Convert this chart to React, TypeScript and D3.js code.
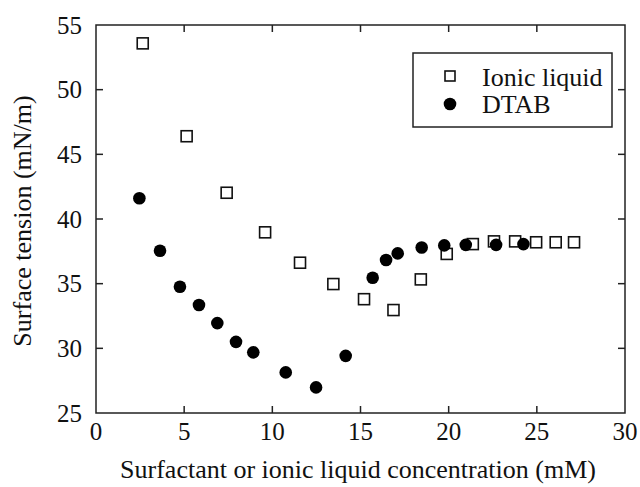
import * as d3 from "d3";
import { useEffect, useRef } from "react";

const ionicX = [2.65, 5.14, 7.41, 9.59, 11.57, 13.46, 15.2, 16.87, 18.42, 19.89, 21.37, 22.57, 23.77, 24.96, 26.07, 27.11];
const ionicY = [53.58, 46.4, 42.03, 38.97, 36.62, 34.97, 33.8, 32.96, 35.33, 37.3, 38.06, 38.27, 38.27, 38.2, 38.2, 38.2];

const dtabX = [2.46, 3.63, 4.76, 5.84, 6.88, 7.94, 8.92, 10.76, 12.48, 14.16, 15.69, 16.45, 17.11, 18.47, 19.75, 20.97, 22.69, 24.24];
const dtabY = [41.6, 37.55, 34.76, 33.35, 31.95, 30.5, 29.69, 28.14, 26.98, 29.42, 35.46, 36.83, 37.34, 37.8, 37.96, 38.0, 38.0, 38.06];

const xTicks = [0, 5, 10, 15, 20, 25, 30];
const yTicks = [25, 30, 35, 40, 45, 50, 55];

const seriesNames = ["Ionic liquid", "DTAB"];

export default function App() {
  const ref = useRef<SVGSVGElement>(null);

  const width = 640;
  const height = 487;
  const left = 96, right = 625, top = 25, bottom = 413;

  useEffect(() => {
    const svg = d3.select(ref.current);
    svg.selectAll("*").remove();

    const x = d3.scaleLinear().domain([0, 30]).range([left, right]);
    const y = d3.scaleLinear().domain([25, 55]).range([bottom, top]);

    const font = "'Liberation Serif', 'Times New Roman', serif";
    const tickLen = 7;

    // frame
    svg.append("rect")
      .attr("x", left).attr("y", top)
      .attr("width", right - left).attr("height", bottom - top)
      .attr("fill", "none").attr("stroke", "#222").attr("stroke-width", 1.5);

    const ticks = svg.append("g").attr("stroke", "#222").attr("stroke-width", 1.5);
    xTicks.slice(1, -1).forEach(t => {
      ticks.append("line").attr("x1", x(t)).attr("x2", x(t)).attr("y1", bottom).attr("y2", bottom - tickLen);
      ticks.append("line").attr("x1", x(t)).attr("x2", x(t)).attr("y1", top).attr("y2", top + tickLen);
    });
    yTicks.slice(1, -1).forEach(t => {
      ticks.append("line").attr("y1", y(t)).attr("y2", y(t)).attr("x1", left).attr("x2", left + tickLen);
      ticks.append("line").attr("y1", y(t)).attr("y2", y(t)).attr("x1", right).attr("x2", right - tickLen);
    });

    svg.append("g")
      .attr("font-family", font).attr("font-size", 25).attr("fill", "#111")
      .selectAll("text").data(xTicks).join("text")
      .attr("x", d => x(d)).attr("y", 440)
      .attr("text-anchor", "middle")
      .text(d => d);

    svg.append("g")
      .attr("font-family", font).attr("font-size", 25).attr("fill", "#111")
      .selectAll("text").data(yTicks).join("text")
      .attr("x", 82).attr("y", d => y(d) + 8.5)
      .attr("text-anchor", "end")
      .text(d => d);

    svg.append("text")
      .attr("font-family", font).attr("font-size", 26).attr("fill", "#111")
      .attr("x", 358).attr("y", 478)
      .attr("text-anchor", "middle")
      .text("Surfactant or ionic liquid concentration (mM)");

    svg.append("text")
      .attr("font-family", font).attr("font-size", 26).attr("fill", "#111")
      .attr("transform", `translate(31, ${(top + bottom) / 2 + 2}) rotate(-90)`)
      .attr("text-anchor", "middle")
      .text("Surface tension (mN/m)");

    // ionic liquid squares
    const sq = 11;
    svg.append("g")
      .selectAll("rect").data(d3.zip(ionicX, ionicY)).join("rect")
      .attr("x", d => x(d[0]) - sq / 2).attr("y", d => y(d[1]) - sq / 2)
      .attr("width", sq).attr("height", sq)
      .attr("fill", "white").attr("stroke", "#111").attr("stroke-width", 1.6);

    // DTAB circles
    svg.append("g")
      .selectAll("circle").data(d3.zip(dtabX, dtabY)).join("circle")
      .attr("cx", d => x(d[0])).attr("cy", d => y(d[1]))
      .attr("r", 6.3).attr("fill", "#000");

    // legend
    const lg = svg.append("g");
    lg.append("rect")
      .attr("x", 413).attr("y", 53).attr("width", 199).attr("height", 74)
      .attr("fill", "white").attr("stroke", "#222").attr("stroke-width", 1.5);
    lg.append("rect")
      .attr("x", 450 - 5).attr("y", 76 - 5).attr("width", 10).attr("height", 10)
      .attr("fill", "white").attr("stroke", "#111").attr("stroke-width", 1.6);
    lg.append("circle").attr("cx", 450).attr("cy", 104).attr("r", 6.3).attr("fill", "#000");
    lg.selectAll("text").data(seriesNames).join("text")
      .attr("font-family", font).attr("font-size", 26).attr("fill", "#111")
      .attr("x", 482).attr("y", (d, i) => 86 + i * 27)
      .text(d => d);
  }, []);

  return (
    <svg ref={ref} width={width} height={height}
      style={{ position: "absolute", left: 0, top: 0, background: "white" }} />
  );
}
